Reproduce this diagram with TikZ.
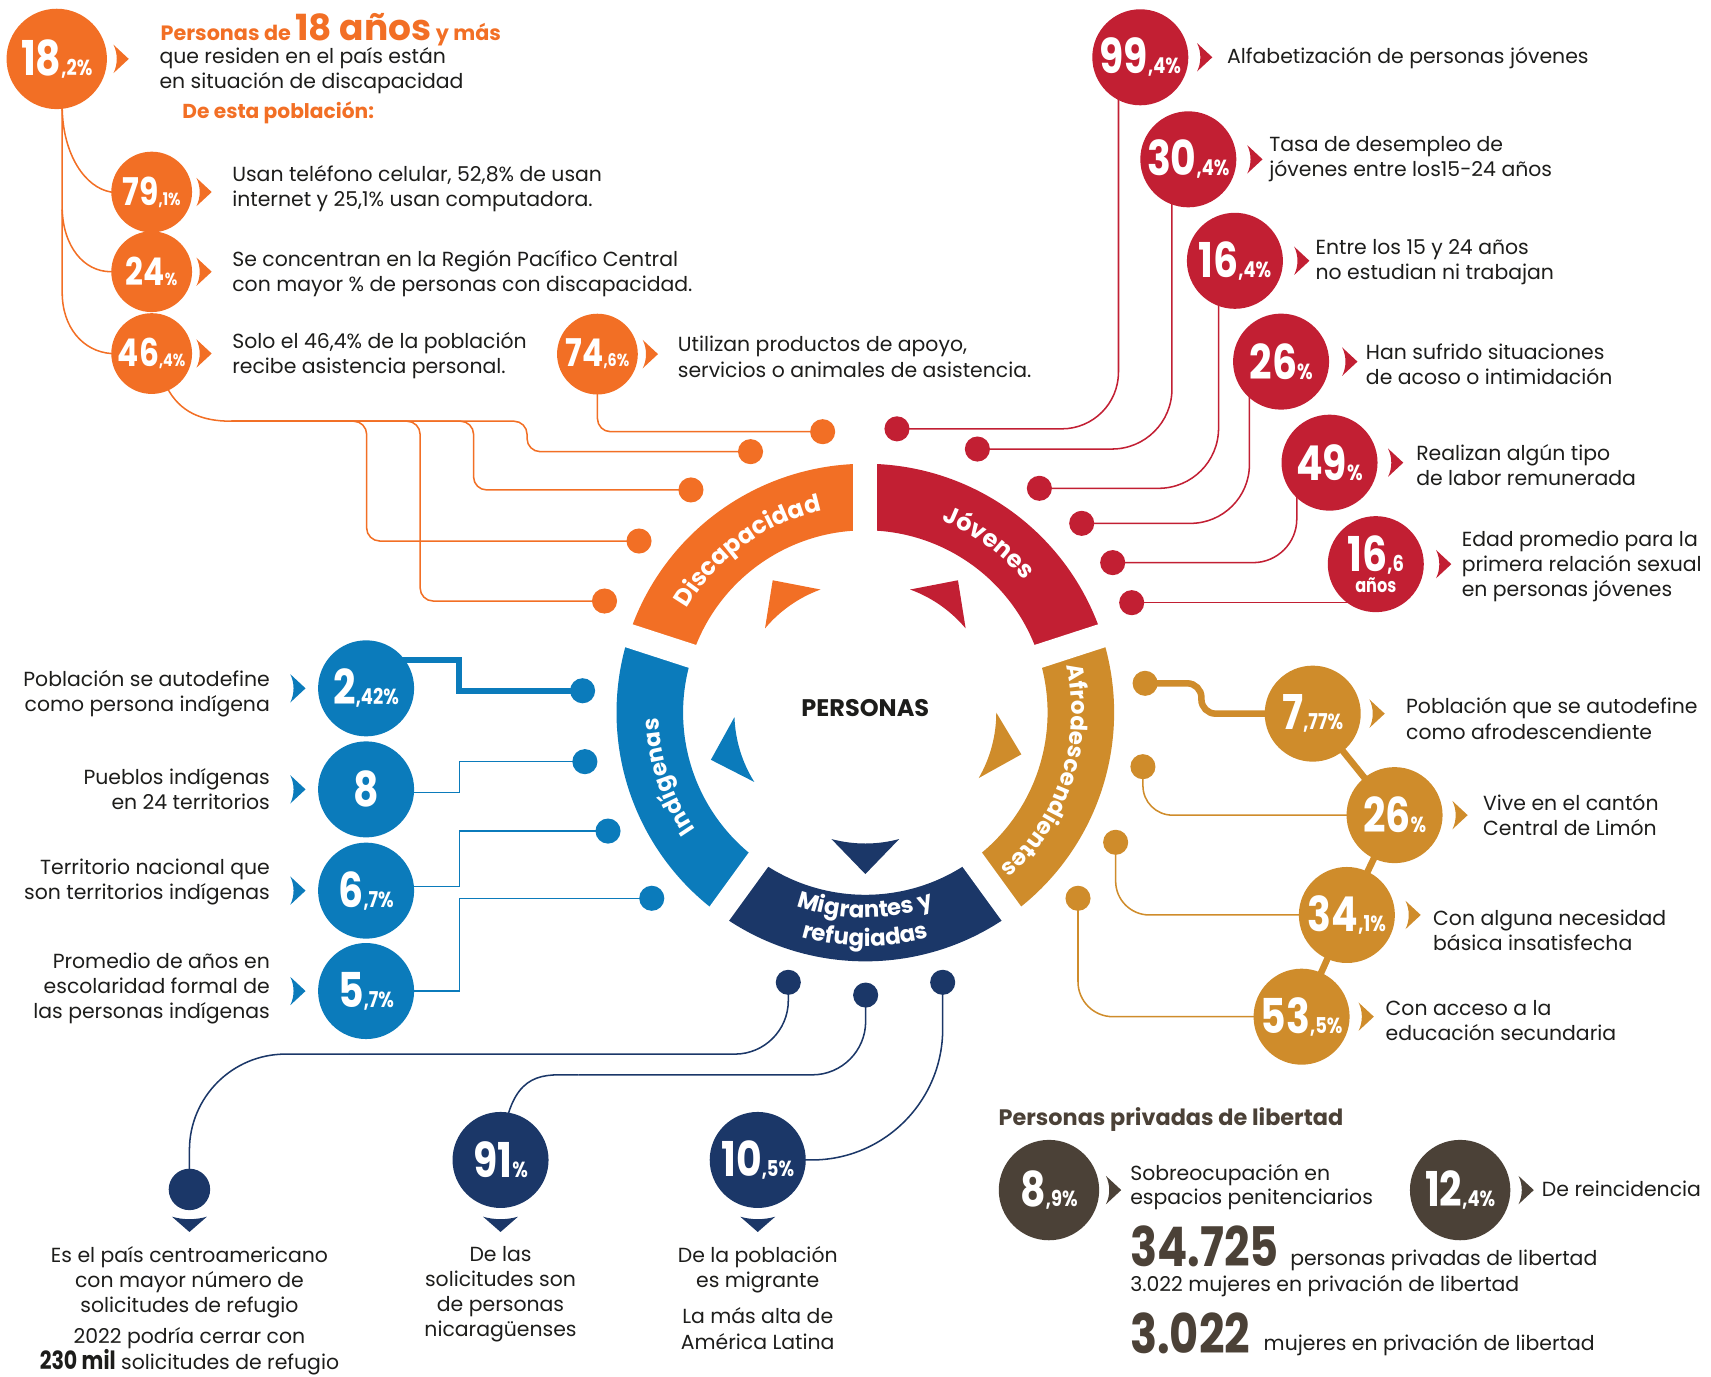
\documentclass[tikz,border=0pt]{standalone}
\usepackage{fontspec}
\setmainfont{Poppins}
\newfontfamily\numfont{Poppins}[FakeStretch=0.82]
\usetikzlibrary{decorations.text}

\definecolor{disc}{HTML}{F26F25}
\definecolor{jov}{HTML}{C21F33}
\definecolor{indi}{HTML}{0B7BBB}
\definecolor{migr}{HTML}{1B3768}
\definecolor{afro}{HTML}{CF8C2B}
\definecolor{priv}{HTML}{4B4137}
\definecolor{ink}{HTML}{1D1D1B}

\pgfdeclarelayer{back}
\pgfsetlayers{back,main}

\newcommand\pct[2]{{\fontsize{44}{44}\selectfont #1}{\fontsize{20}{20}\selectfont #2}}
\newcommand\pcts[2]{{\fontsize{35}{35}\selectfont #1}{\fontsize{16}{16}\selectfont #2}}

\tikzset{
  stat/.style={circle, fill=#1, inner sep=0, minimum size=88, text=white, font=\numfont\bfseries},
  smallstat/.style={stat=#1, minimum size=74},
  knob/.style={circle, fill=#1, inner sep=0, minimum size=23},
  link/.style={draw=#1, line width=1.4},
  txt/.style={inner sep=0, anchor=west, align=left, text=ink, font=\fontsize{18.7}{23}\selectfont},
  txtr/.style={txt, anchor=east, align=right},
  txtc/.style={txt, anchor=north, align=center},
  band/.style 2 args={decorate, decoration={text along path, text align=center,
      text={|\bfseries\fontsize{#1}{#1}\selectfont\color{white}|#2}}},
  pointer/.pic={\fill (0,-13) -- (14,0) -- (0,13) .. controls (4,5) and (4,-5) .. cycle;},
  droptip/.pic={\fill (-16,0) .. controls (-6,3) and (6,3) .. (16,0) -- (0,14) -- cycle;}
}

\begin{document}
\begin{tikzpicture}[x=1pt, y=-1pt]
\useasboundingbox (0,0) rectangle (1568,1261);

% ring
\begin{scope}[shift={(793,653)}]
  \foreach \a/\c in {198/disc, 270/jov, 342/afro, 54/migr, 126/indi}
    \fill[\c] (\a:228) arc[start angle=\a, end angle=\a+72, radius=228]
      -- (\a+72:167) arc[start angle=\a+72, end angle=\a, radius=167] -- cycle;
  \foreach \g in {198, 270, 342, 54, 126}
    \draw[white, line width=22] (\g:160) -- (\g:240);
  \foreach \a/\c in {235/disc, 305/jov, 15/afro, 90/migr, 163/indi}
    \fill[\c] (\a:148) -- (\a+15:120) arc[start angle=\a+15, end angle=\a-15, radius=120] -- cycle;
  \path[band={22}{Discapacidad}] (174:189) arc[start angle=174, end angle=294, radius=189];
  \path[band={22}{Jóvenes}] (246:189) arc[start angle=246, end angle=366, radius=189];
  \path[band={21}{Afrodescendientes}] (318:189) arc[start angle=318, end angle=438, radius=189];
  \path[band={21}{Indígenas}] (102:189) arc[start angle=102, end angle=222, radius=189];
  \path[band={21}{Migrantes y}] (150:188) arc[start angle=150, end angle=30, radius=188];
  \path[band={21}{refugiadas}] (150:214) arc[start angle=150, end angle=30, radius=214];
\end{scope}
\node[font=\bfseries\fontsize{22}{22}\selectfont, text=ink, inner sep=0] (core) at (793,649) {PERSONAS};

% dots round the ring
\foreach \n/\x/\y in {od1/753.9/395.6, od2/687.8/413.9, od3/633.2/449, od4/585.6/495.8, od5/554/550.8}
  \node[knob=disc] (\n) at (\x,\y) {};
\foreach \n/\x/\y in {rd1/822/393, rd2/895.7/411.5, rd3/952.5/447.5, rd4/991.3/479.6, rd5/1019.7/515.6, rd6/1037.1/552.3}
  \node[knob=jov] (\n) at (\x,\y) {};
\foreach \n/\x/\y in {id1/533.9/633, id2/536/698, id3/557.2/761.6, id4/597.3/823.2}
  \node[knob=indi] (\n) at (\x,\y) {};
\foreach \n/\x/\y in {ad1/1049.4/626.2, ad2/1047.4/702.6, ad3/1022.4/771.9, ad4/987.9/823.2}
  \node[knob=afro] (\n) at (\x,\y) {};
\foreach \n/\x/\y in {md1/722.4/900.2, md2/793.3/911.9, md3/863.9/900.2}
  \node[knob=migr] (\n) at (\x,\y) {};

% Discapacidad
\node[stat=disc, minimum size=92] (o0) at (52,54) {\pct{18}{,2\%}};
\node[smallstat=disc] (o1) at (139,176) {\pcts{79}{,1\%}};
\node[smallstat=disc] (o2) at (139,249) {\pcts{24}{\%}};
\node[smallstat=disc] (o3) at (139,324) {\pcts{46}{,4\%}};
\node[smallstat=disc] (o5) at (547.5,324.5) {\pcts{74}{,6\%}};
\node[anchor=base west, inner sep=0, text=disc, font=\bfseries\fontsize{19}{19}\selectfont] (head) at (147,37)
  {Personas de {\fontsize{33}{33}\selectfont 18 años} y más};
\node[txt] (headtxt) at (146,65) {que residen en el país están\\en situación de discapacidad};
\node[anchor=base west, inner sep=0, text=disc, font=\bfseries\fontsize{18.5}{18.5}\selectfont] (sub) at (167,108.5) {De esta población:};
\node[txt] at (212.7,173) {Usan teléfono celular, 52,8\% de usan\\internet y 25,1\% usan computadora.};
\node[txt] at (212.7,251) {Se concentran en la Región Pacífico Central\\con mayor \% de personas con discapacidad.};
\node[txt] at (212.7,326) {Solo el 46,4\% de la población\\recibe asistencia personal.};
\node[txt] at (621,327) {Utilizan productos de apoyo,\\servicios o animales de asistencia.};

% Jovenes
\node[stat=jov] (r1) at (1045,52.5) {\pct{99}{,4\%}};
\node[stat=jov] (r2) at (1089,146) {\pct{30}{,4\%}};
\node[stat=jov] (r3) at (1131.7,239) {\pct{16}{,4\%}};
\node[stat=jov] (r4) at (1174,331.4) {\pct{26}{\%}};
\node[stat=jov] (r5) at (1218.4,424) {\pct{49}{\%}};
\node[stat=jov, align=center, font=\numfont\bfseries\fontsize{10}{19}\selectfont] (r6) at (1260.8,517)
  {\pct{16}{,6}\\{\fontsize{18}{18}\selectfont años}};
\node[txt, anchor=base west] at (1124.4,58) {Alfabetización de personas jóvenes};
\node[txt] at (1163,145.5) {Tasa de desempleo de\\jóvenes entre los15-24 años};
\node[txt] at (1205.5,240) {Entre los 15 y 24 años\\no estudian ni trabajan};
\node[txt] at (1251.6,333.5) {Han sufrido situaciones\\de acoso o intimidación};
\node[txt] at (1297.7,426.5) {Realizan algún tipo\\de labor remunerada};
\node[txt] at (1339.4,519) {Edad promedio para la\\primera relación sexual\\en personas jóvenes};

% Indigenas
\node[stat=indi] (i1) at (335.5,630.8) {\pct{2}{,42\%}};
\node[stat=indi] (i2) at (335.5,723.4) {\pct{8}{}};
\node[stat=indi] (i3) at (335.5,816.2) {\pct{6}{,7\%}};
\node[stat=indi] (i4) at (335.5,908.2) {\pct{5}{,7\%}};
\node[txtr] at (247.5,635.5) {Población se autodefine\\como persona indígena};
\node[txtr] at (247.5,722.8) {Pueblos indígenas\\en 24 territorios};
\node[txtr] at (247.5,808.5) {Territorio nacional que\\son territorios indígenas};
\node[txtr] at (247.5,905.5) {Promedio de años en\\escolaridad formal de\\las personas indígenas};

% Afrodescendientes
\node[stat=afro] (a1) at (1203,654) {\pct{7}{,77\%}};
\node[stat=afro] (a2) at (1278,747) {\pct{26}{\%}};
\node[stat=afro] (a3) at (1234.3,838.5) {\pct{34}{,1\%}};
\node[stat=afro] (a4) at (1192.8,931.7) {\pct{53}{,5\%}};
\node[txt] at (1288.4,658.5) {Población que se autodefine\\como afrodescendiente};
\node[txt] at (1359,747.3) {Vive en el cantón\\Central de Limón};
\node[txt] at (1313.2,852.5) {Con alguna necesidad\\básica insatisfecha};
\node[txt] at (1269.7,935) {Con acceso a la\\educación secundaria};

% Migrantes y refugiadas
\node[knob=migr, minimum size=38] (m1) at (173.6,1090) {};
\node[stat=migr] (m2) at (458.7,1063) {\pct{91}{\%}};
\node[stat=migr] (m3) at (694.4,1063) {\pct{10}{,5\%}};
\foreach \x in {173.6, 458.7, 694.4}
  \pic[migr] at (\x,1115) {droptip};
\node[txtc] at (173.6,1142) {Es el país centroamericano\\con mayor número de\\solicitudes de refugio};
\node[txtc, font=\fontsize{18.7}{19}\selectfont] at (173.6,1216)
  {2022 podría cerrar con\\{\numfont\bfseries\fontsize{23}{23}\selectfont 230 mil} solicitudes de refugio};
\node[txtc] at (458.7,1142) {De las\\solicitudes son\\de personas\\nicaragüenses};
\node[txtc] at (694.4,1142) {De la población\\es migrante};
\node[txtc] at (694.4,1198.5) {La más alta de\\América Latina};

% Personas privadas de libertad
\node[anchor=base west, inner sep=0, text=priv, font=\bfseries\fontsize{20.5}{20.5}\selectfont] (ptitle) at (915,1031) {Personas privadas de libertad};
\node[stat=priv, minimum size=92] (p1) at (961.3,1090.6) {\pct{8}{,9\%}};
\node[stat=priv, minimum size=92] (p2) at (1338.1,1090.6) {\pct{12}{,4\%}};
\node[txt, font=\fontsize{18.7}{21.5}\selectfont] at (1035.6,1088) {Sobreocupación en\\espacios penitenciarios};
\node[txt, anchor=base west] at (1412.9,1096.7) {De reincidencia};
\node[anchor=base west, inner sep=0, text=priv, font=\numfont\bfseries\fontsize{50}{50}\selectfont] (big1) at (1035.6,1160.8) {34.725};
\node[txt, anchor=base west] at (1182.2,1159.3) {personas privadas de libertad};
\node[txt, anchor=base west] at (1035.6,1183.7) {3.022 mujeres en privación de libertad};
\node[anchor=base west, inner sep=0, text=priv, font=\numfont\bfseries\fontsize{50}{50}\selectfont] (big2) at (1035.6,1240.2) {3.022};
\node[txt, anchor=base west] at (1157.9,1237.2) {mujeres en privación de libertad};

% pointers
\foreach \x/\y/\c in {104/54/disc, 180/176/disc, 180/249/disc, 180/324/disc, 589/324.5/disc,
    1097/52.5/jov, 1143/146/jov, 1186/239/jov, 1230/331.4/jov, 1272/424/jov, 1316/517/jov,
    266/630.8/indi, 266/723.4/indi, 266/816.2/indi, 266/908.2/indi,
    1255/654/afro, 1331/747/afro, 1288/838.5/afro, 1245/931.7/afro,
    1013.5/1090.6/priv, 1391.6/1090.6/priv}
  \pic[\c] at (\x,\y) {pointer};

% connectors
\begin{pgfonlayer}{back}
  \coordinate (s1) at (57,100);
  \coordinate (s2) at (57,192);
  \coordinate (t0) at (212,386);
  \draw[link=disc] (o0.center) ++(5,0) -- (57,268) .. controls (57,300) and (76,322) .. (o3.west) -- (o3.center);
  \draw[link=disc] (s1) .. controls (58,142) and (78,172) .. (o1.west) -- (o1.center);
  \draw[link=disc] (s2) .. controls (58,225) and (76,249) .. (o2.west) -- (o2.center);
  \draw[link=disc] (o3.center) -- (153,355) .. controls (165,378) and (185,386) .. (t0);
  \draw[link=disc, rounded corners=12] (t0) -| (483,413.9) -- (od2.center);
  \draw[link=disc, rounded corners=12] (t0) -| (434,449) -- (od3.center);
  \draw[link=disc, rounded corners=12] (t0) -| (336,495.8) -- (od4.center);
  \draw[link=disc, rounded corners=12] (t0) -| (385,550.8) -- (od5.center);
  \draw[link=disc, rounded corners=12] (o5.center) |- (od1.center);

  \draw[link=jov, rounded corners=52] (r1.center) ++(-20,0) |- (rd1.center);
  \draw[link=jov, rounded corners=55] (r2.center) ++(-15,0) |- (rd2.center);
  \draw[link=jov, rounded corners=55] (r3.center) ++(-15,0) |- (rd3.center);
  \draw[link=jov, rounded corners=54] (r4.center) ++(-29,0) |- (rd4.center);
  \draw[link=jov, rounded corners=40] (r5.center) ++(-30,0) |- (rd5.center);
  \draw[link=jov] (rd6.center) -- (rd6.center -| r6.center);

  \draw[indi, line width=5.5] (i1.center) ++(0,-26) -| (421,633) -- (id1.center);
  \draw[link=indi] (i2.center) ++(0,3) -| (421,698) -- (id2.center);
  \draw[link=indi] (i3.center) ++(0,-4) -| (421,761.6) -- (id3.center);
  \draw[link=indi] (i4.center) -| (421,823.2) -- (id4.center);

  \draw[afro, line width=6] (a1.center) -- (a2.center) -- (a3.center) -- (a4.center);
  \draw[afro, line width=6, rounded corners=13] (ad1.center) -| (1101,654) -- (a1.center);
  \draw[link=afro, rounded corners=27] (ad2.center) |- (a2.center);
  \draw[link=afro, rounded corners=31] (ad3.center) |- (a3.center);
  \draw[link=afro, rounded corners=32] (ad4.center) |- (a4.center);

  \coordinate (b1) at (320,966);
  \coordinate (b2) at (530,985);
  \draw[link=migr, rounded corners=49] (md1.center) |- (b1);
  \draw[link=migr, rounded corners=88] (b1) -| (m1.center);
  \draw[link=migr, rounded corners=49] (md2.center) |- (b2);
  \draw[link=migr] (b2) -- (512,985) .. controls (482,985) and (464,998) .. (m2.center);
  \draw[link=migr, rounded corners=120] (md3.center) |- (m3.center);
\end{pgfonlayer}
\end{tikzpicture}
\end{document}
